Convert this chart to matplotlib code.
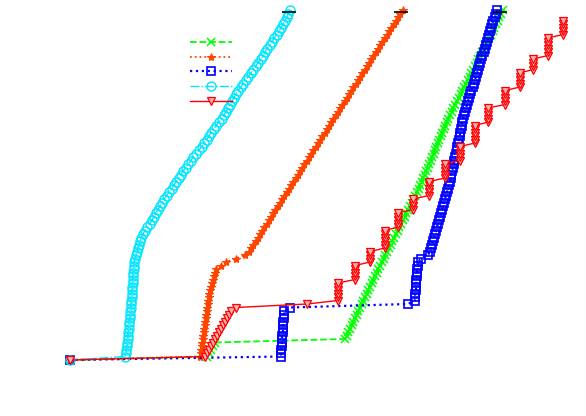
import matplotlib
matplotlib.use("Agg")
import matplotlib.pyplot as plt
import numpy as np

# Cactus-style data: each list gives the time at which the k-th instance was solved
green_t = [0, 137, 139, 141, 143, 145,
           275, 277, 278, 280, 282, 283, 285, 287, 288, 290, 292, 293, 295, 297, 298, 300,
           302, 303, 305, 307, 308, 310,
           312, 314, 315, 317, 319, 321, 322, 324, 326, 328, 329, 331, 333, 335, 336, 338,
           340, 342, 343, 345, 347, 349, 350, 352,
           353, 355, 356, 358, 359, 361, 362, 364, 365, 366, 368, 369, 371, 372, 374, 375, 377, 378,
           380, 382, 383, 385, 387, 389, 391, 392, 394, 396, 398, 400, 401, 403, 405, 407, 408, 410,
           412, 414, 415, 417, 419, 421, 423, 424, 426, 428, 429, 431, 433]

orange_t = [0, 130, 131, 131, 132, 132, 133, 133, 134, 134, 135, 135, 136, 136, 137, 137,
            138, 138, 139, 139, 140, 141, 142, 143, 144, 145, 146,
            151, 156, 166, 175, 179,
            181, 183, 186, 188, 190, 192, 194, 197, 199, 201, 203, 205, 208, 210, 212, 214,
            217, 219, 221, 223, 226, 228, 230, 232, 234, 237, 239, 241, 243, 246, 248, 250,
            252, 255, 257, 259, 261, 263, 266, 268, 270, 272, 275, 277, 279, 281, 283, 286,
            288, 290, 292, 295, 297, 299, 301, 303, 306, 308, 310, 312, 315, 317, 319, 321,
            324, 326, 328, 330, 333]

blue_t = [0, 211, 211, 211, 212, 212, 212, 212, 213, 213, 213, 213, 214, 214, 214, 220,
          338,
          345, 345, 345, 346, 346, 346, 346, 347, 347, 347, 348, 348,
          351, 358, 360,
          361, 362, 363, 364, 365, 366, 367, 368, 369, 370, 371, 372, 373, 374, 375, 376,
          377, 378, 379, 380,
          381, 381, 382, 383, 384, 384, 385, 386, 387, 387, 388, 389, 390, 390, 391, 392,
          392, 393,
          394, 395, 396, 397, 398, 399, 400, 401, 403, 404, 405, 406, 407, 408, 409, 410,
          411, 412, 414, 415, 416, 417, 418, 419, 420, 421, 422, 423, 425, 426, 427]

cyan_t = [0, 55, 56, 56, 57, 57, 58, 58, 58, 59, 59, 59, 60, 60, 60, 61, 61, 61, 62, 62,
          62, 62, 63, 63, 63, 63, 64, 64, 64,
          65, 66, 67, 68, 69, 70, 71, 73, 75, 77, 80, 82, 84, 86, 88, 90, 92, 94, 97, 99,
          102, 104, 106, 109, 111, 113, 116, 118, 121, 123, 126, 129, 132, 134, 137, 139,
          141, 144, 146, 149, 152, 154, 156, 158, 160, 162, 164, 166, 168, 171, 173, 176,
          178, 181, 183, 186, 188, 191, 193, 195, 197, 200, 202, 204, 207, 209, 211, 213,
          215, 217, 218, 220]

red_t = [0, 135, 137, 139, 141, 143, 145, 147, 149, 151, 153, 155, 157, 159, 161, 166, 237,
         268, 268, 268, 268, 268, 268,
         285, 285, 285, 285, 285,
         300, 300, 300, 300,
         315, 315, 315, 315, 315, 315,
         328, 328, 328, 328, 328,
         343, 343, 343, 343,
         359, 359, 359, 359, 359,
         375, 375, 375, 375, 375,
         390, 390, 390, 390, 390,
         405, 405, 405, 405, 405, 405,
         418, 418, 418, 418, 418,
         435, 435, 435, 435, 435,
         450, 450, 450, 450, 450,
         463, 463, 463, 463,
         478, 478, 478, 478, 478, 478,
         493, 493, 493, 493, 493]

# short black end ticks at the top of some curves
end_t = [219, 331, 430]
end_n = 99.4

fig = plt.figure(figsize=(5.86, 4.16), dpi=100)
ax = fig.add_axes([0, 0, 1, 1])
ax.set_axis_off()

series = [
    (green_t, dict(color='#00ff00', ls='--', lw=1.3, marker='x', ms=5.5, mew=1.1)),
    (orange_t, dict(color='#ff4500', ls=':', lw=1.3, marker='*', ms=6, mew=0.8)),
    (blue_t, dict(color='#0000ff', ls=':', lw=1.6, marker='s', ms=6, mew=1.2, mfc='none')),
    (cyan_t, dict(color='#00e5ff', ls='-.', lw=1.0, marker='o', ms=6.5, mew=1.0, mfc='none')),
    (red_t, dict(color='#ff0000', ls='-', lw=1.0, marker='v', ms=5.5, mew=0.9, mfc='#ffb0b0')),
]

handles = []
for t, style in series:
    n = np.arange(len(t))
    h, = ax.plot(t, n, **style)
    handles.append(h)

ax.plot(end_t, [end_n] * len(end_t), ls='none', marker='_', ms=10, mew=1.2, color='black')

ax.set_xlim(-70, 516)
ax.set_ylim(-16, 360 / 3.5)

fig.legend(handles, [' '] * len(handles), loc='upper left',
           bbox_to_anchor=(190 / 586, 1 - 38 / 416), bbox_transform=fig.transFigure,
           frameon=False, fontsize=8, labelspacing=0.42, handlelength=3.8,
           handletextpad=0.2, borderpad=0, borderaxespad=0, numpoints=1)

fig.savefig('out.png', dpi=100)
